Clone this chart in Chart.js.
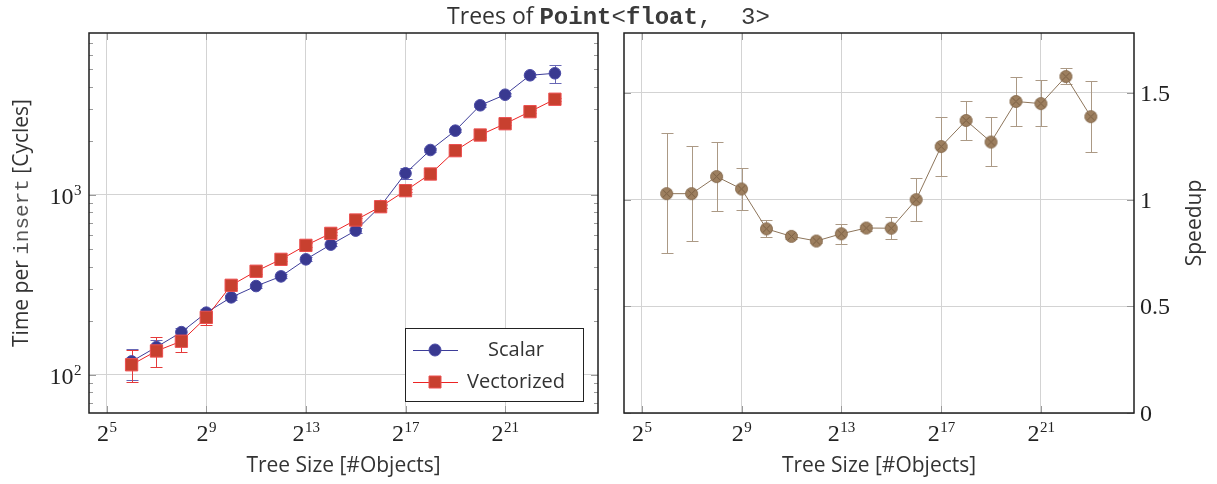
<!DOCTYPE html>
<html>
<head>
<meta charset="utf-8">
<title>Trees of Point&lt;float, 3&gt;</title>
<script src="https://cdn.jsdelivr.net/npm/chart.js@4.4.0/dist/chart.umd.min.js"></script>
<style>
  html, body { margin: 0; padding: 0; background: #fff; }
  #wrap { position: relative; width: 1217px; height: 484px; overflow: hidden; }
  #wrap canvas { position: absolute; top: 0; }
  #title { position: absolute; left: 0; top: 0px; width: 1217px; text-align: center; white-space: pre;
           font: 23px "Open Sans", Lato, sans-serif; line-height: 30px; color: #333; }
  #title .tt { font-family: "Liberation Mono", "DejaVu Sans Mono", monospace; font-size: 24px; color: #3a3a3a; }
</style>
</head>
<body>
<div id="wrap">
  <canvas id="cycles" width="608" height="484" style="left:0"></canvas>
  <canvas id="speedup" width="609" height="484" style="left:608px"></canvas>
  <div id="title">Trees of <span class="tt"><b>Point</b>&lt;<b>float</b>,  3&gt;</span></div>
</div>
<script>
// tree sizes 2^6 .. 2^23
var treeSizes = [64, 128, 256, 512, 1024, 2048, 4096, 8192, 16384, 32768, 65536,
                 131072, 262144, 524288, 1048576, 2097152, 4194304, 8388608];

// cycles per insert, mean and error range
var scalarCycles = [119, 143, 173, 222, 270, 312, 353, 439, 530, 634, 868, 1320, 1778, 2277, 3150, 3607, 4624, 4745];
var scalarLow    = [94, 132, 165, 211, 262, 304, 345, 428, 518, 618, 846, 1227, 1740, 2225, 3080, 3530, 4540, 4175];
var scalarHigh   = [139, 156, 182, 233, 278, 320, 362, 451, 543, 652, 890, 1418, 1818, 2330, 3220, 3690, 4710, 5296];

var vectorCycles = [114, 136, 154, 209, 315, 377, 439, 525, 612, 726, 861, 1057, 1308, 1763, 2154, 2489, 2904, 3404];
var vectorLow    = [92, 111, 134, 189, 305, 366, 428, 512, 598, 710, 842, 1035, 1280, 1725, 2110, 2440, 2850, 3340];
var vectorHigh   = [138, 163, 167, 222, 325, 388, 450, 538, 626, 742, 880, 1080, 1336, 1800, 2200, 2540, 2960, 3470];

// scalar / vectorized
var speedup     = [1.028, 1.028, 1.108, 1.05, 0.863, 0.828, 0.806, 0.84, 0.867, 0.866, 1.0, 1.249, 1.371, 1.27, 1.46, 1.45, 1.577, 1.389];
var speedupLow  = [0.748, 0.806, 0.947, 0.95, 0.825, 0.815, 0.795, 0.794, 0.855, 0.816, 0.9, 1.1125, 1.281, 1.156, 1.344, 1.344, 1.544, 1.225];
var speedupHigh = [1.3125, 1.253, 1.272, 1.15, 0.906, 0.84, 0.815, 0.8875, 0.88, 0.919, 1.1, 1.3875, 1.4625, 1.3875, 1.575, 1.559, 1.616, 1.556];

var sizeTicks = [32, 512, 8192, 131072, 2097152];
var cycleTicks = [100, 1000];
var cycleMinor = [70, 80, 90, 200, 300, 400, 500, 600, 700, 800, 900, 2000, 3000, 4000, 5000, 6000, 7000];
var speedupTicks = [0, 0.5, 1, 1.5];

var SERIF = '"Liberation Serif", "DejaVu Serif", serif';
var SANS = '"Open Sans", Lato, sans-serif';
var MONO = '"Liberation Mono", "DejaVu Sans Mono", monospace';
var TEXT = '#333';
var GRID = '#d3d3d3';

// base with a raised exponent, e.g. 2^13 or 10^3
function powLabel(ctx, base, exp, x, y, align) {
    ctx.font = '24px ' + SERIF;
    var wb = ctx.measureText(base).width;
    ctx.font = '15px ' + SERIF;
    var we = ctx.measureText(exp).width;
    var x0 = x;
    if (align == 'center') x0 = x - (wb + we) / 2;
    if (align == 'right') x0 = x - wb - we;
    ctx.textAlign = 'left';
    ctx.textBaseline = 'alphabetic';
    ctx.font = '24px ' + SERIF;
    ctx.fillText(base, x0, y);
    ctx.font = '15px ' + SERIF;
    ctx.fillText(exp, x0 + wb + 0.5, y - 9);
}

// text made of pieces in different fonts, rotated to read upwards
function sideTitle(ctx, parts, cx, cy) {
    var total = 0;
    parts.forEach(function (p) { ctx.font = p[1]; total += ctx.measureText(p[0]).width; });
    ctx.save();
    ctx.translate(cx, cy);
    ctx.rotate(-Math.PI / 2);
    ctx.textAlign = 'left';
    ctx.textBaseline = 'middle';
    var x = -total / 2;
    parts.forEach(function (p) {
        ctx.font = p[1];
        ctx.fillStyle = p[2];
        ctx.fillText(p[0], x, 0);
        x += ctx.measureText(p[0]).width;
    });
    ctx.restore();
}

function otimesMark(r) {
    var c = document.createElement('canvas');
    c.width = c.height = 2 * r + 3;
    var g = c.getContext('2d');
    var m = c.width / 2;
    g.fillStyle = '#9d7f5f';
    g.strokeStyle = '#866a4d';
    g.lineWidth = 1;
    g.beginPath();
    g.arc(m, m, r, 0, Math.PI * 2);
    g.fill();
    g.stroke();
    var d = r * Math.SQRT1_2;
    g.strokeStyle = '#7a5f43';
    g.beginPath();
    g.moveTo(m - d, m - d); g.lineTo(m + d, m + d);
    g.moveTo(m - d, m + d); g.lineTo(m + d, m - d);
    g.stroke();
    return c;
}

var pgfLook = {
    id: 'pgfLook',
    beforeDatasetsDraw: function (chart) {
        var ctx = chart.ctx, ys = chart.scales.y;
        chart.data.datasets.forEach(function (ds, i) {
            if (!ds.errLow) return;
            var pts = chart.getDatasetMeta(i).data;
            ctx.save();
            ctx.strokeStyle = ds.errColor;
            ctx.lineWidth = 1;
            pts.forEach(function (p, j) {
                var lo = Math.round(ys.getPixelForValue(ds.errLow[j])) + 0.5;
                var hi = Math.round(ys.getPixelForValue(ds.errHigh[j])) + 0.5;
                var x = Math.round(p.x) + 0.5;
                ctx.beginPath();
                ctx.moveTo(x, lo); ctx.lineTo(x, hi);
                ctx.moveTo(x - 6, lo); ctx.lineTo(x + 6, lo);
                ctx.moveTo(x - 6, hi); ctx.lineTo(x + 6, hi);
                ctx.stroke();
            });
            ctx.restore();
        });
    },
    afterDraw: function (chart, args, opts) {
        var ctx = chart.ctx, a = chart.chartArea;
        var xs = chart.scales.x, ys = chart.scales.y;
        ctx.save();

        // tick marks on the inside of the frame
        ctx.strokeStyle = '#9a9a9a';
        ctx.lineWidth = 1;
        ctx.beginPath();
        xs.ticks.forEach(function (t) {
            var x = Math.round(xs.getPixelForValue(t.value)) + 0.5;
            ctx.moveTo(x, a.bottom); ctx.lineTo(x, a.bottom - 7);
            ctx.moveTo(x, a.top); ctx.lineTo(x, a.top + 7);
        });
        ys.ticks.forEach(function (t) {
            var y = Math.round(ys.getPixelForValue(t.value)) + 0.5;
            ctx.moveTo(a.left, y); ctx.lineTo(a.left + 7, y);
            ctx.moveTo(a.right, y); ctx.lineTo(a.right - 7, y);
        });
        (opts.minor || []).forEach(function (v) {
            var y = Math.round(ys.getPixelForValue(v)) + 0.5;
            ctx.moveTo(a.left, y); ctx.lineTo(a.left + 4, y);
            ctx.moveTo(a.right, y); ctx.lineTo(a.right - 4, y);
        });
        ctx.stroke();

        // frame
        ctx.strokeStyle = '#1e1e1e';
        ctx.lineWidth = 1.5;
        ctx.strokeRect(a.left, a.top, a.right - a.left, a.bottom - a.top);

        // tick labels
        ctx.fillStyle = '#222';
        xs.ticks.forEach(function (t) {
            powLabel(ctx, '2', String(Math.round(Math.log2(t.value))), xs.getPixelForValue(t.value), a.bottom + 28, 'center');
        });
        ys.ticks.forEach(function (t) {
            var y = ys.getPixelForValue(t.value);
            if (opts.logY) {
                powLabel(ctx, '10', String(Math.round(Math.log10(t.value))), a.left - 8, y + 9, 'right');
            } else {
                ctx.font = '24px ' + SERIF;
                ctx.textAlign = 'left';
                ctx.textBaseline = 'alphabetic';
                ctx.fillText(String(t.value), a.right + 6, y + 8);
            }
        });

        // rotated y title
        if (opts.yTitle) sideTitle(ctx, opts.yTitle, opts.yTitleX, (a.top + a.bottom) / 2);

        // legend box in the lower right corner
        if (opts.legend) {
            var w = 178, h = 73;
            var bx = a.right - 15 - w, by = a.bottom - 12 - h;
            ctx.fillStyle = '#fff';
            ctx.fillRect(bx, by, w, h);
            ctx.strokeStyle = '#222';
            ctx.lineWidth = 1;
            ctx.strokeRect(bx + 0.5, by + 0.5, w, h);
            chart.data.datasets.forEach(function (ds, i) {
                var ly = by + 22 + i * 32;
                ctx.strokeStyle = ds.borderColor;
                ctx.lineWidth = 1;
                ctx.beginPath();
                ctx.moveTo(bx + 8, ly + 0.5); ctx.lineTo(bx + 53, ly + 0.5);
                ctx.stroke();
                ctx.fillStyle = ds.pointBackgroundColor;
                ctx.strokeStyle = ds.pointBorderColor;
                ctx.beginPath();
                if (ds.pointStyle == 'rect') {
                    ctx.rect(bx + 24, ly - 6, 12, 12);
                } else {
                    ctx.arc(bx + 30, ly, 6, 0, Math.PI * 2);
                }
                ctx.fill();
                ctx.stroke();
                ctx.fillStyle = TEXT;
                ctx.font = '20px ' + SANS;
                ctx.textAlign = 'center';
                ctx.textBaseline = 'middle';
                ctx.fillText(ds.label, bx + 111, ly);
            });
        }
        ctx.restore();
    }
};

function sizeAxis() {
    return {
        type: 'logarithmic',
        bounds: 'data',
        min: Math.pow(2, 4.29),
        max: Math.pow(2, 24.73),
        afterBuildTicks: function (s) { s.ticks = sizeTicks.map(function (v) { return { value: v }; }); },
        afterFit: function (s) { s.height = 71; },
        grid: { color: GRID, drawTicks: false },
        border: { display: false },
        ticks: { display: false },
        title: { display: true, text: 'Tree Size [#Objects]', color: TEXT,
                 font: { family: SANS, size: 21 }, padding: { top: 0, bottom: 5 } }
    };
}

var cyclesChart = new Chart(document.getElementById('cycles'), {
    type: 'line',
    data: {
        labels: treeSizes,
        datasets: [{
            label: 'Scalar',
            data: scalarCycles,
            errLow: scalarLow,
            errHigh: scalarHigh,
            errColor: '#6767b5',
            borderColor: '#3d3d99',
            borderWidth: 1,
            pointStyle: 'circle',
            pointRadius: 5.8,
            pointBorderWidth: 1,
            pointBackgroundColor: '#393990',
            pointBorderColor: '#4b4ba6',
            order: 1
        }, {
            label: 'Vectorized',
            data: vectorCycles,
            errLow: vectorLow,
            errHigh: vectorHigh,
            errColor: '#e53a3a',
            borderColor: '#ec2424',
            borderWidth: 1,
            pointStyle: 'rect',
            pointRadius: 8.7,
            pointBorderWidth: 1,
            pointBackgroundColor: '#c8402f',
            pointBorderColor: '#ec5050',
            order: 0
        }]
    },
    options: {
        responsive: false,
        animation: false,
        devicePixelRatio: 1,
        layout: { padding: { top: 33, right: 10, left: 0, bottom: 0 } },
        scales: {
            x: sizeAxis(),
            y: {
                type: 'logarithmic',
                bounds: 'data',
                min: 61.5,
                max: 7943,
                afterBuildTicks: function (s) { s.ticks = cycleTicks.map(function (v) { return { value: v }; }); },
                afterFit: function (s) { s.width = 89; },
                grid: { color: GRID, drawTicks: false },
                border: { display: false },
                ticks: { display: false }
            }
        },
        plugins: {
            legend: { display: false },
            tooltip: { enabled: false },
            pgfLook: {
                logY: true,
                minor: cycleMinor,
                legend: true,
                yTitleX: 22,
                yTitle: [['Time per ', '21px ' + SANS, TEXT], ['insert', '21px ' + MONO, '#555'], [' [Cycles]', '21px ' + SANS, TEXT]]
            }
        }
    },
    plugins: [pgfLook]
});

var speedupChart = new Chart(document.getElementById('speedup'), {
    type: 'line',
    data: {
        labels: treeSizes,
        datasets: [{
            label: 'Speedup',
            data: speedup,
            errLow: speedupLow,
            errHigh: speedupHigh,
            errColor: '#ab9985',
            borderColor: '#8d755b',
            borderWidth: 1,
            pointStyle: otimesMark(6),
            pointRadius: 6
        }]
    },
    options: {
        responsive: false,
        animation: false,
        devicePixelRatio: 1,
        layout: { padding: { top: 33, right: 0, left: 16, bottom: 0 } },
        scales: {
            x: sizeAxis(),
            y: {
                type: 'linear',
                position: 'right',
                min: 0,
                max: 1.781,
                afterBuildTicks: function (s) { s.ticks = speedupTicks.map(function (v) { return { value: v }; }); },
                afterFit: function (s) { s.width = 83; },
                grid: { color: GRID, drawTicks: false },
                border: { display: false },
                ticks: { display: false }
            }
        },
        plugins: {
            legend: { display: false },
            tooltip: { enabled: false },
            pgfLook: {
                logY: false,
                yTitleX: 587,
                yTitle: [['Speedup', '21px ' + SANS, TEXT]]
            }
        }
    },
    plugins: [pgfLook]
});
</script>
</body>
</html>
